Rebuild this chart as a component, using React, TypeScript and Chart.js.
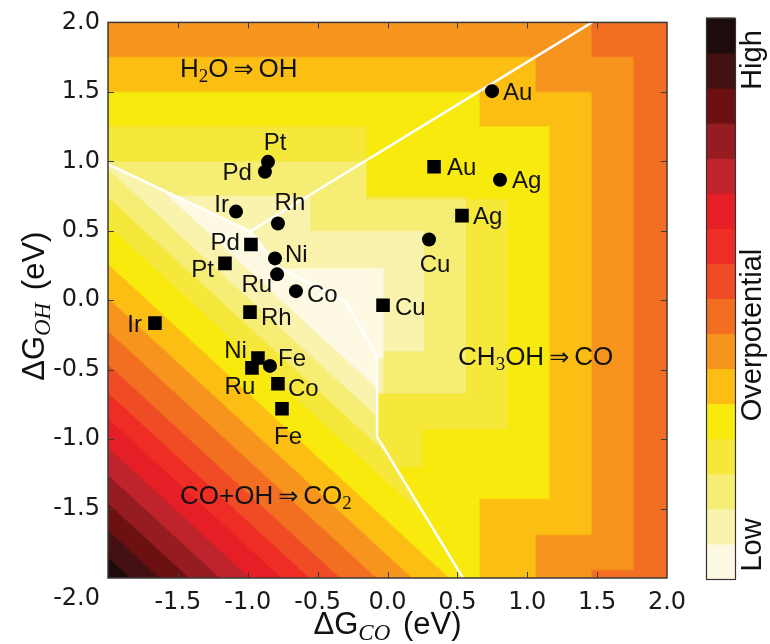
import React, { useEffect, useRef } from 'react';
import { Chart, registerables } from 'chart.js';

Chart.register(...registerables);

// ---------------- data ----------------
// 16 overpotential levels, Low -> High
const LEVEL_COLORS = ['#fdf9e2', '#f9f3ae', '#f6ed74', '#f5e83a', '#f8ea0c', '#fcbe13', '#f7941d', '#f26f21', '#ef4b24', '#ee2d24', '#e61e25', '#bf232b', '#951c20', '#6c1012', '#431113', '#1e0c0c'];

// H2O -> OH region: level steps with ΔG_OH
const TOP_EDGES = [0.5, 0.75, 1.0, 1.25, 1.5, 1.75];
// CO+OH -> CO2 region: level steps with ΔG_CO + DIAG_OH_WEIGHT·ΔG_OH
const DIAG_OH_WEIGHT = 1.08;
const DIAG_EDGES = [-0.76, -0.98, -1.2, -1.42, -1.72, -1.985, -2.24, -2.5, -2.72, -2.92, -3.145, -3.36, -3.58, -3.79, -4.0];
// CH3OH -> CO region: stepped contours, each [ΔG_OH upper, ΔG_OH lower, ΔG_CO edge]
const RIGHT_CONTOURS: number[][][] = [
  [[0.23, -0.42, -0.03]],
  [[0.75, 0.5, -0.55], [0.5, -0.37, 0.26], [-0.37, -0.67, -0.03]],
  [[1.0, 0.75, -0.15], [0.75, -0.67, 0.56]],
  [[1.25, 0.73, -0.15], [0.73, -0.93, 0.86], [-0.93, -1.2, 0.25]],
  [[1.5, 1.25, 0.66], [1.25, -1.43, 1.16], [-1.43, -2.1, 0.66]],
  [[1.75, 1.5, 1.06], [1.5, -1.69, 1.46], [-1.69, -2.1, 1.06]],
  [[2.1, 1.75, 1.46], [1.75, -1.94, 1.76], [-1.94, -2.1, 1.46]],
];

// white region boundaries
const UPPER_LEFT_LINE = [{ x: -2, y: 0.98 }, { x: -0.984, y: 0.495 }];
const UPPER_RIGHT_LINE = [{ x: -0.984, y: 0.495 }, { x: 1.463, y: 2.0 }];
const LOWER_LINE = [
  { x: -0.984, y: 0.495 }, { x: -0.769, y: 0.229 }, { x: -0.304, y: -0.007 },
  { x: -0.075, y: -0.401 }, { x: -0.075, y: -0.982 }, { x: 0.54, y: -2.0 },
];

// metals (circles and squares)
const CIRCLE_LABELS = ['Au', 'Pt', 'Pd', 'Ir', 'Rh', 'Ni', 'Ru', 'Co', 'Cu', 'Ag', 'Fe'];
const CIRCLE_X = [0.748, -0.855, -0.877, -1.084, -0.784, -0.805, -0.79, -0.655, 0.297, 0.805, -0.841];
const CIRCLE_Y = [1.505, 0.996, 0.925, 0.638, 0.552, 0.301, 0.186, 0.065, 0.437, 0.867, -0.473];
const SQUARE_LABELS = ['Au', 'Ag', 'Cu', 'Pd', 'Pt', 'Rh', 'Ir', 'Ni', 'Ru', 'Co', 'Fe'];
const SQUARE_X = [0.333, 0.533, -0.032, -0.977, -1.163, -0.984, -1.664, -0.927, -0.97, -0.784, -0.755];
const SQUARE_Y = [0.961, 0.609, -0.036, 0.401, 0.265, -0.086, -0.165, -0.416, -0.487, -0.602, -0.781];

const AXIS_TICKS = [-2, -1.5, -1, -0.5, 0, 0.5, 1, 1.5, 2];
const COLORBAR_LABELS = ['High', 'Overpotential', 'Low'];

// ---------------- layout (label placement: dx, dy, align) ----------------
const CIRCLE_LABEL_POS: [number, number, string][] = [
  [11, 0, 'left'], [7, -20, 'center'], [-13, 0, 'right'], [-7, -8, 'right'], [12, -22, 'center'],
  [10, -5, 'left'], [-5, 9, 'right'], [11, 2, 'left'], [6, 24, 'center'], [12, 0, 'left'], [8, -8, 'left'],
];
const SQUARE_LABEL_POS: [number, number, string][] = [
  [13, 0, 'left'], [11, 0, 'left'], [12, 1, 'left'], [-11, -3, 'right'], [-11, 5, 'right'], [11, 4, 'left'],
  [-13, 0, 'right'], [-11, -9, 'right'], [-12, 18, 'center'], [10, 4, 'left'], [6, 27, 'center'],
];

const SANS = '"Liberation Sans", Arial, Helvetica, sans-serif';
const DEJAVU = '"DejaVu Sans", sans-serif';
const SERIF = '"Liberation Serif", "DejaVu Serif", serif';

// ---------------- helpers ----------------
function hexToRgb(h: string) {
  const n = parseInt(h.slice(1), 16);
  return [(n >> 16) & 255, (n >> 8) & 255, n & 255];
}

function inPoly(x: number, y: number, poly: { x: number; y: number }[]) {
  let inside = false;
  for (let i = 0, j = poly.length - 1; i < poly.length; j = i++) {
    const xi = poly[i].x, yi = poly[i].y, xj = poly[j].x, yj = poly[j].y;
    if ((yi > y) !== (yj > y) && x < ((xj - xi) * (y - yi)) / (yj - yi) + xi) inside = !inside;
  }
  return inside;
}

const last = LOWER_LINE[LOWER_LINE.length - 1];
const prev = LOWER_LINE[LOWER_LINE.length - 2];
const ext = 0.1 / (prev.y - last.y);
const BL_POLY = [
  { x: -2.1, y: UPPER_LEFT_LINE[0].y + 0.05 },
  ...UPPER_LEFT_LINE,
  ...LOWER_LINE.slice(1),
  { x: last.x + (last.x - prev.x) * ext, y: last.y - 0.1 },
  { x: -2.1, y: -2.1 },
];

function topLevel(y: number) {
  let n = 0;
  for (const e of TOP_EDGES) if (y > e) n++;
  return n;
}
function diagLevel(s: number) {
  let n = 0;
  for (const e of DIAG_EDGES) if (s < e) n++;
  return n;
}
function rightLevel(x: number, y: number) {
  let n = 0;
  for (const segs of RIGHT_CONTOURS) {
    let edge = -Infinity;
    for (const sg of segs) {
      if (y <= sg[0] && y > sg[1]) { edge = sg[2]; break; }
    }
    if (x > edge) n++;
  }
  return n;
}
function levelAt(x: number, y: number) {
  if (inPoly(x, y, BL_POLY)) return diagLevel(x + DIAG_OH_WEIGHT * y);
  return Math.max(topLevel(y), rightLevel(x, y));
}

type Run = { t: string; f: string; dy?: number; gap?: number };
function drawRuns(ctx: CanvasRenderingContext2D, runs: Run[], x: number, y: number, align: string) {
  let w = 0;
  for (const r of runs) { ctx.font = r.f; w += ctx.measureText(r.t).width + (r.gap || 0); }
  let cx = align === 'left' ? x : align === 'center' ? x - w / 2 : x - w;
  ctx.textAlign = 'left';
  ctx.textBaseline = 'alphabetic';
  for (const r of runs) {
    ctx.font = r.f;
    ctx.fillText(r.t, cx, y + (r.dy || 0));
    cx += ctx.measureText(r.t).width + (r.gap || 0);
  }
}

const heatmapPlugin = {
  id: 'heatmap',
  beforeDatasetsDraw(chart: any) {
    const { ctx, chartArea: a, scales } = chart;
    const xs = scales.x, ys = scales.y;
    const w = Math.round(a.right - a.left), h = Math.round(a.bottom - a.top);
    const off = document.createElement('canvas');
    off.width = w; off.height = h;
    const octx = off.getContext('2d')!;
    const img = octx.createImageData(w, h);
    const rgb = LEVEL_COLORS.map(hexToRgb);
    const S = 2;
    const xv: number[] = [], yv: number[] = [];
    for (let i = 0; i < w * S; i++) xv.push(xs.getValueForPixel(a.left + (i + 0.5) / S));
    for (let j = 0; j < h * S; j++) yv.push(ys.getValueForPixel(a.top + (j + 0.5) / S));
    for (let j = 0; j < h; j++) {
      for (let i = 0; i < w; i++) {
        let r = 0, g = 0, b = 0;
        for (let sj = 0; sj < S; sj++) for (let si = 0; si < S; si++) {
          const c = rgb[levelAt(xv[i * S + si], yv[j * S + sj])];
          r += c[0]; g += c[1]; b += c[2];
        }
        const k = (j * w + i) * 4;
        img.data[k] = r / (S * S); img.data[k + 1] = g / (S * S); img.data[k + 2] = b / (S * S); img.data[k + 3] = 255;
      }
    }
    octx.putImageData(img, 0, 0);
    ctx.drawImage(off, a.left, a.top);
  },
};

const overlayPlugin = {
  id: 'overlay',
  afterDatasetsDraw(chart: any) {
    const { ctx, chartArea: a, scales } = chart;
    const xs = scales.x, ys = scales.y;
    ctx.save();
    ctx.fillStyle = '#111';
    const lf = `24px ${SANS}`;
    const cap = 8.6;
    CIRCLE_LABELS.forEach((t, i) => {
      const p = CIRCLE_LABEL_POS[i];
      drawRuns(ctx, [{ t, f: lf }], xs.getPixelForValue(CIRCLE_X[i]) + p[0], ys.getPixelForValue(CIRCLE_Y[i]) + p[1] + cap, p[2]);
    });
    SQUARE_LABELS.forEach((t, i) => {
      const p = SQUARE_LABEL_POS[i];
      drawRuns(ctx, [{ t, f: lf }], xs.getPixelForValue(SQUARE_X[i]) + p[0], ys.getPixelForValue(SQUARE_Y[i]) + p[1] + cap, p[2]);
    });

    // region labels
    const rf = `26px ${SANS}`;
    const sf = `19px ${SERIF}`;
    const af = `24px ${DEJAVU}`;
    drawRuns(ctx, [
      { t: 'H', f: rf }, { t: '2', f: sf, dy: 5 }, { t: 'O', f: rf, gap: 5 }, { t: '⇒', f: af, gap: 5 }, { t: 'OH', f: rf },
    ], xs.getPixelForValue(-1.485), ys.getPixelForValue(1.67) + 9, 'left');
    drawRuns(ctx, [
      { t: 'CH', f: rf }, { t: '3', f: sf, dy: 5 }, { t: 'OH', f: rf, gap: 5 }, { t: '⇒', f: af, gap: 5 }, { t: 'CO', f: rf },
    ], xs.getPixelForValue(0.505), ys.getPixelForValue(-0.4) + 9, 'left');
    drawRuns(ctx, [
      { t: 'CO+OH', f: rf, gap: 5 }, { t: '⇒', f: af, gap: 5 }, { t: 'CO', f: rf }, { t: '2', f: sf, dy: 5 },
    ], xs.getPixelForValue(-1.485), ys.getPixelForValue(-1.405) + 9, 'left');

    // frame and inward ticks
    ctx.strokeStyle = '#3a3a3a';
    ctx.lineWidth = 1.5;
    ctx.strokeRect(a.left, a.top, a.right - a.left, a.bottom - a.top);
    ctx.lineWidth = 1;
    ctx.beginPath();
    AXIS_TICKS.slice(1, -1).forEach((v) => {
      const px = Math.round(xs.getPixelForValue(v)) + 0.5;
      ctx.moveTo(px, a.top); ctx.lineTo(px, a.top + 6);
      ctx.moveTo(px, a.bottom); ctx.lineTo(px, a.bottom - 6);
      const py = Math.round(ys.getPixelForValue(v)) + 0.5;
      ctx.moveTo(a.left, py); ctx.lineTo(a.left + 6, py);
      ctx.moveTo(a.right, py); ctx.lineTo(a.right - 6, py);
    });
    ctx.stroke();
    ctx.restore();
  },
  afterDraw(chart: any) {
    const { ctx, chartArea: a } = chart;
    ctx.save();
    // shared corner tick label
    ctx.fillStyle = '#1a1a1a';
    ctx.font = `24px ${DEJAVU}`;
    ctx.textAlign = 'right';
    ctx.textBaseline = 'middle';
    ctx.fillText('-2.0', 100, 599);

    // axis titles
    ctx.fillStyle = '#111';
    const tf = `31px ${SANS}`;
    const sub = `italic 23px ${SERIF}`;
    drawRuns(ctx, [{ t: 'ΔG', f: tf }, { t: 'CO', f: sub, dy: 6, gap: 4 }, { t: ' (eV)', f: tf }], (a.left + a.right) / 2, 634, 'center');
    ctx.save();
    ctx.translate(44, (a.top + a.bottom) / 2 + 6);
    ctx.rotate(-Math.PI / 2);
    drawRuns(ctx, [{ t: 'ΔG', f: tf }, { t: 'OH', f: sub, dy: 6, gap: 4 }, { t: ' (eV)', f: tf }], 0, 0, 'center');
    ctx.restore();

    // colorbar
    const cx0 = 706, cx1 = 735, cy0 = 18, cy1 = 579;
    const n = LEVEL_COLORS.length;
    const bh = (cy1 - cy0) / n;
    LEVEL_COLORS.forEach((c, i) => {
      ctx.fillStyle = c;
      const yb = cy1 - i * bh;
      ctx.fillRect(cx0, yb - bh - 0.5, cx1 - cx0, bh + 1);
    });
    ctx.strokeStyle = '#333';
    ctx.lineWidth = 1.2;
    ctx.strokeRect(cx0 + 0.5, cy0 + 0.5, cx1 - cx0, cy1 - cy0);

    ctx.fillStyle = '#111';
    ctx.font = `29px ${SANS}`;
    ctx.textAlign = 'center';
    ctx.textBaseline = 'middle';
    const pos = [60, 335, 545];
    COLORBAR_LABELS.forEach((t, i) => {
      ctx.save();
      ctx.translate(753, pos[i]);
      ctx.rotate(-Math.PI / 2);
      ctx.fillText(t, 0, 0);
      ctx.restore();
    });
    ctx.restore();
  },
};

const tickFmt = (v: any) => (Math.abs(Number(v) + 2) < 1e-9 ? '' : Number(v).toFixed(1));

export default function App() {
  const ref = useRef<HTMLCanvasElement>(null);
  useEffect(() => {
    const lineDs = (data: { x: number; y: number }[]) => ({
      data, showLine: true, borderColor: '#ffffff', borderWidth: 2.5, pointRadius: 0, tension: 0, order: 2,
    });
    const chart = new Chart(ref.current as HTMLCanvasElement, {
      type: 'scatter',
      data: {
        datasets: [
          {
            data: CIRCLE_X.map((x, i) => ({ x, y: CIRCLE_Y[i] })),
            pointStyle: 'circle', pointRadius: 7, backgroundColor: '#000', borderColor: '#000', borderWidth: 0, order: 1,
          } as any,
          {
            data: SQUARE_X.map((x, i) => ({ x, y: SQUARE_Y[i] })),
            pointStyle: 'rect', pointRadius: 9.6, backgroundColor: '#000', borderColor: '#000', borderWidth: 0, order: 1,
          } as any,
          lineDs(UPPER_LEFT_LINE) as any,
          lineDs(UPPER_RIGHT_LINE) as any,
          lineDs(LOWER_LINE) as any,
        ],
      },
      options: {
        responsive: false,
        animation: false,
        events: [],
        layout: { padding: { top: 20, right: 103, left: 0, bottom: 0 } },
        plugins: { legend: { display: false }, tooltip: { enabled: false } },
        scales: {
          x: {
            type: 'linear', min: -2, max: 2,
            grid: { display: false, drawTicks: false },
            border: { display: false },
            ticks: { stepSize: 0.5, autoSkip: false, maxRotation: 0, padding: 10, color: '#1a1a1a', font: { family: 'DejaVu Sans', size: 24 }, callback: tickFmt },
            afterFit: (s: any) => { s.height = 66; },
          },
          y: {
            type: 'linear', min: -2, max: 2,
            grid: { display: false, drawTicks: false },
            border: { display: false },
            ticks: { stepSize: 0.5, autoSkip: false, padding: 8, color: '#1a1a1a', font: { family: 'DejaVu Sans', size: 24 }, callback: tickFmt },
            afterFit: (s: any) => { s.width = 108; },
          },
        },
      } as any,
      plugins: [heatmapPlugin, overlayPlugin],
    });
    return () => chart.destroy();
  }, []);
  return (
    <div style={{ position: 'fixed', left: 0, top: 0, width: 770, height: 644, background: '#fff' }}>
      <canvas ref={ref} width={770} height={644} style={{ display: 'block', width: 770, height: 644 }} />
    </div>
  );
}
